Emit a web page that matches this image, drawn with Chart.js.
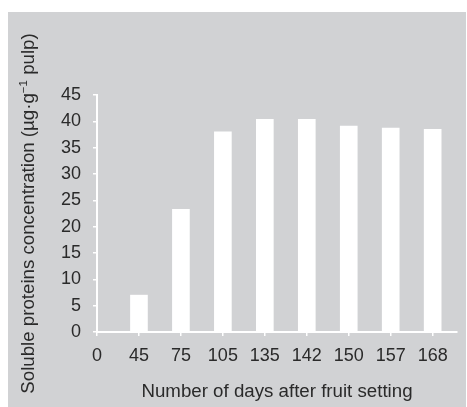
<!DOCTYPE html>
<html>
<head>
<meta charset="utf-8">
<script src="https://cdn.jsdelivr.net/npm/chart.js@4/dist/chart.umd.min.js"></script>
<style>
  html, body { margin: 0; padding: 0; background: #ffffff; }
  #panel {
    position: absolute; left: 8px; top: 12px;
    width: 458px; height: 395px;
    background: #d1d2d4;
  }
  #chart { display: block; }
</style>
</head>
<body>
<div id="panel"><canvas id="chart" width="458" height="395"></canvas></div>
<script>
// Days after fruit setting (category labels on the x axis)
const dayLabels = ['0', '45', '75', '105', '135', '142', '150', '157', '168'];
// Soluble protein concentration, µg·g⁻¹ pulp
const proteinValues = [0, 7.0, 23.3, 38.0, 40.4, 40.4, 39.1, 38.7, 38.5];
// Y axis ticks
const yTicks = [0, 5, 10, 15, 20, 25, 30, 35, 40, 45];

const FONT = '"Liberation Sans", Arial, Helvetica, sans-serif';
const TEXT = '#2a2a2a';
const FONT_SIZE = 18;
const TITLE_SIZE = 18.7;

// Vertical axis title with a superscript exponent
const yTitlePlugin = {
  id: 'yTitle',
  afterDraw(chart) {
    const ctx = chart.ctx;
    const area = chart.chartArea;
    const parts = [
      { t: 'Soluble proteins concentration (\u00b5g\u00b7g', size: TITLE_SIZE, rise: 0 },
      { t: '\u22121', size: 11.5, rise: 7 },
      { t: ' pulp)', size: TITLE_SIZE, rise: 0 }
    ];
    ctx.save();
    let total = 0;
    parts.forEach(p => {
      ctx.font = p.size + 'px ' + FONT;
      p.w = ctx.measureText(p.t).width;
      total += p.w;
    });
    ctx.translate(26, (area.top + area.bottom) / 2);
    ctx.rotate(-Math.PI / 2);
    ctx.fillStyle = TEXT;
    ctx.textBaseline = 'alphabetic';
    ctx.textAlign = 'left';
    let x = -total / 2;
    parts.forEach(p => {
      ctx.font = p.size + 'px ' + FONT;
      ctx.fillText(p.t, x, -p.rise);
      x += p.w;
    });
    ctx.restore();
  }
};

new Chart(document.getElementById('chart'), {
  type: 'bar',
  data: {
    datasets: [{
      data: proteinValues.map((v, i) => ({ x: i, y: v })),
      backgroundColor: '#ffffff',
      borderWidth: 0,
      barThickness: 17
    }]
  },
  options: {
    responsive: false,
    devicePixelRatio: 1,
    animation: false,
    layout: { padding: { top: 83, right: 9, left: 0, bottom: 0 } },
    plugins: {
      legend: { display: false },
      tooltip: { enabled: false }
    },
    scales: {
      x: {
        type: 'linear',
        offset: false,
        min: 0,
        max: 8.58,
        afterBuildTicks(scale) {
          scale.ticks = dayLabels.map((_, i) => ({ value: i }));
        },
        afterFit(scale) { scale.height = 75; },
        grid: {
          offset: false,
          drawOnChartArea: false,
          drawTicks: true,
          tickLength: 4,
          color: '#ffffff',
          lineWidth: 1.5
        },
        border: { color: '#ffffff', width: 2 },
        ticks: {
          autoSkip: false,
          maxRotation: 0,
          padding: 9,
          color: TEXT,
          font: { family: FONT, size: FONT_SIZE },
          callback: (v) => dayLabels[v] ?? ''
        },
        title: {
          display: true,
          text: 'Number of days after fruit setting',
          color: TEXT,
          font: { family: FONT, size: TITLE_SIZE },
          padding: { top: 8 }
        }
      },
      y: {
        min: 0,
        max: 45,
        afterBuildTicks(scale) {
          scale.ticks = yTicks.map(v => ({ value: v }));
        },
        afterFit(scale) { scale.width = 89; },
        grid: {
          drawOnChartArea: false,
          drawTicks: true,
          tickLength: 4,
          color: '#ffffff',
          lineWidth: 1.5
        },
        border: { color: '#ffffff', width: 2 },
        ticks: {
          padding: 12,
          color: TEXT,
          font: { family: FONT, size: FONT_SIZE }
        }
      }
    }
  },
  plugins: [yTitlePlugin]
});
</script>
</body>
</html>
